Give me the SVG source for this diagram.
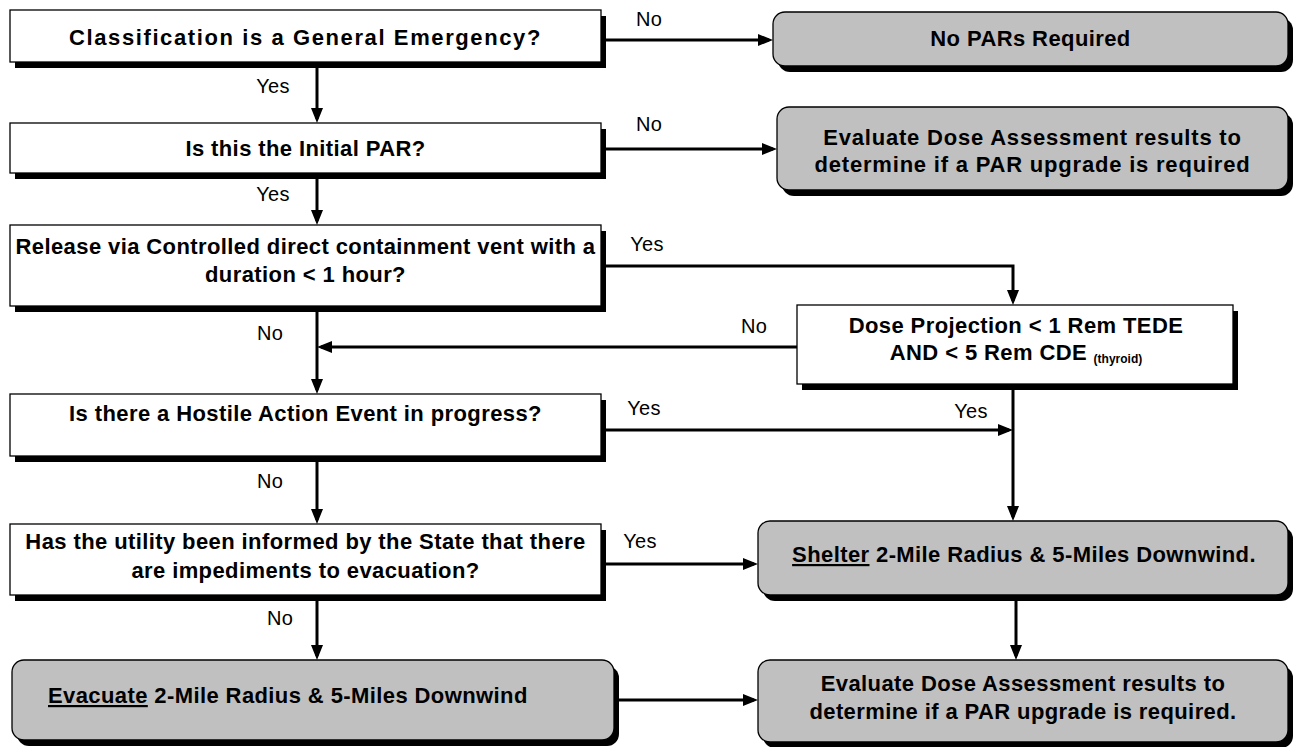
<svg xmlns="http://www.w3.org/2000/svg" width="1297" height="747" viewBox="0 0 1297 747">
<defs>
<style>
.box{fill:#ffffff;stroke:#000;stroke-width:1.3}
.rbox{fill:#c0c0c0;stroke:#000;stroke-width:1.3}
.sh{fill:#000}
.t{font-family:"Liberation Sans",Arial,sans-serif;font-weight:bold;font-size:22px;letter-spacing:0.4px;fill:#000;text-anchor:middle}
.tl{text-anchor:start}
.wide{letter-spacing:1.6px}
.mid{letter-spacing:0.8px}
.lab{font-family:"Liberation Sans",Arial,sans-serif;font-size:20px;letter-spacing:0.3px;fill:#000;text-anchor:middle}
.sub{font-size:12px;letter-spacing:0}
.c{fill:none;stroke:#000;stroke-width:3;stroke-linejoin:miter;marker-end:url(#ah)}
</style>
<marker id="ah" viewBox="0 0 15 12" refX="11" refY="6" markerWidth="15" markerHeight="12" markerUnits="userSpaceOnUse" orient="auto">
<path d="M0,0 L15,6 L0,12 z" fill="#000"/>
</marker>
</defs>
<rect width="1297" height="747" fill="#fff"/>

<g id="connectors">
<path class="c" d="M601,40 H769"/>
<path class="c" d="M317,62 V119"/>
<path class="c" d="M601,149 H773"/>
<path class="c" d="M317,173 V221"/>
<path class="c" d="M601,266 H1013 V301"/>
<path class="c" d="M317,306 V390"/>
<path class="c" d="M797,347 H321"/>
<path class="c" d="M601,430 H1009"/>
<path class="c" d="M1013,384 V517"/>
<path class="c" d="M317,456 V520"/>
<path class="c" d="M601,564 H754"/>
<path class="c" d="M317,595 V656"/>
<path class="c" d="M1016,595 V656"/>
<path class="c" d="M614,700 H754"/>
<text class="lab" x="649" y="26">No</text>
<text class="lab" x="273" y="93">Yes</text>
<text class="lab" x="649" y="131">No</text>
<text class="lab" x="273" y="201">Yes</text>
<text class="lab" x="647" y="251">Yes</text>
<text class="lab" x="270" y="340">No</text>
<text class="lab" x="754" y="333">No</text>
<text class="lab" x="644" y="415">Yes</text>
<text class="lab" x="971" y="418">Yes</text>
<text class="lab" x="270" y="488">No</text>
<text class="lab" x="640" y="548">Yes</text>
<text class="lab" x="280" y="625">No</text>
</g>

<g id="q1">
<rect class="sh" x="15" y="16" width="591" height="52"/>
<rect class="box" x="10" y="10" width="591" height="52"/>
<text class="t wide" x="305.5" y="45">Classification is a General Emergency?</text>
</g>

<g id="q2">
<rect class="sh" x="15" y="129" width="591" height="50"/>
<rect class="box" x="10" y="123" width="591" height="50"/>
<text class="t" x="305.5" y="156">Is this the Initial PAR?</text>
</g>

<g id="q3">
<rect class="sh" x="15" y="231" width="591" height="81"/>
<rect class="box" x="10" y="225" width="591" height="81"/>
<text class="t" x="305.5" y="254">Release via Controlled direct containment vent with a</text>
<text class="t" x="305.5" y="282">duration &lt; 1 hour?</text>
</g>

<g id="q4">
<rect class="sh" x="15" y="400" width="591" height="62"/>
<rect class="box" x="10" y="394" width="591" height="62"/>
<text class="t" x="305.5" y="421">Is there a Hostile Action Event in progress?</text>
</g>

<g id="q5">
<rect class="sh" x="15" y="530" width="591" height="71"/>
<rect class="box" x="10" y="524" width="591" height="71"/>
<text class="t" x="305.5" y="549">Has the utility been informed by the State that  there</text>
<text class="t" x="305.5" y="578">are impediments to evacuation?</text>
</g>

<g id="evacuate">
<rect class="sh" x="17" y="666" width="602" height="80" rx="12"/>
<rect class="rbox" x="12" y="660" width="602" height="80" rx="12"/>
<text class="t tl" x="48" y="703"><tspan text-decoration="underline">Evacuate</tspan> 2-Mile Radius &amp; 5-Miles Downwind</text>
</g>

<g id="noPars">
<rect class="sh" x="778" y="18" width="515" height="54" rx="12"/>
<rect class="rbox" x="773" y="12" width="515" height="54" rx="12"/>
<text class="t" x="1030.5" y="46">No PARs Required</text>
</g>

<g id="evaluate1">
<rect class="sh" x="782" y="113" width="511" height="83" rx="12"/>
<rect class="rbox" x="777" y="107" width="511" height="83" rx="12"/>
<text class="t mid" x="1032.5" y="145">Evaluate Dose Assessment results to</text>
<text class="t mid" x="1032.5" y="172">determine if a PAR upgrade is required</text>
</g>

<g id="dose">
<rect class="sh" x="802" y="311" width="436" height="79"/>
<rect class="box" x="797" y="305" width="436" height="79"/>
<text class="t" x="1016" y="333">Dose Projection &lt; 1 Rem TEDE</text>
<text class="t" x="1016" y="360">AND &lt; 5 Rem CDE <tspan class="sub" dy="3">(thyroid)</tspan></text>
</g>

<g id="shelter">
<rect class="sh" x="763" y="527" width="530" height="74" rx="12"/>
<rect class="rbox" x="758" y="521" width="530" height="74" rx="12"/>
<text class="t" x="1024" y="562"><tspan text-decoration="underline">Shelter</tspan> 2-Mile Radius &amp; 5-Miles Downwind.</text>
</g>

<g id="evaluate2">
<rect class="sh" x="763" y="666" width="530" height="82" rx="12"/>
<rect class="rbox" x="758" y="660" width="530" height="82" rx="12"/>
<text class="t" x="1023" y="691">Evaluate Dose Assessment results to</text>
<text class="t" x="1023" y="719">determine if a PAR upgrade is required.</text>
</g>
</svg>
